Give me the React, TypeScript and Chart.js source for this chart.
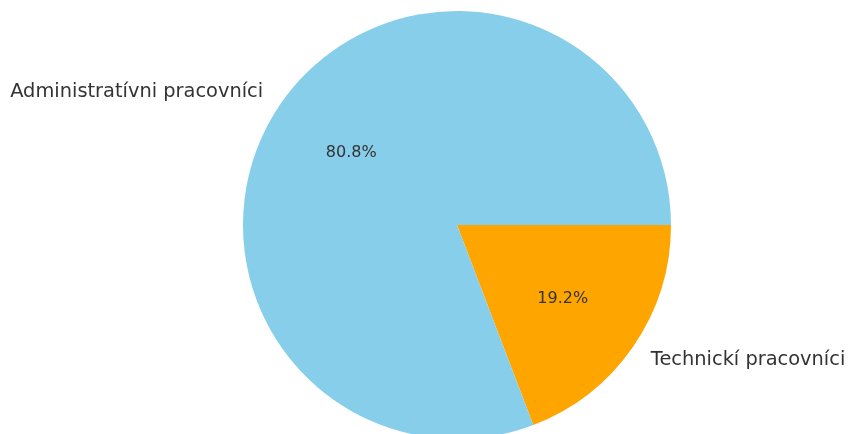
import React, { useEffect, useRef } from "react";
import { Chart, registerables } from "chart.js";

Chart.register(...registerables);

const categories = ["Technickí pracovníci", "Administratívni pracovníci"];
const values = [19.2, 80.8];
const colors = ["#FFA500", "#87CEEB"];

const labelPlugin = {
  id: "pieLabels",
  afterDatasetsDraw(chart: any) {
    const ctx = chart.ctx;
    const meta = chart.getDatasetMeta(0);
    const total = values.reduce((a, b) => a + b, 0);
    ctx.save();
    meta.data.forEach((arc: any, i: number) => {
      const { x, y, startAngle, endAngle, outerRadius } = arc.getProps(
        ["x", "y", "startAngle", "endAngle", "outerRadius"],
        true
      );
      const mid = (startAngle + endAngle) / 2;
      const cx = Math.cos(mid);
      const cy = Math.sin(mid);
      // outer label
      ctx.fillStyle = "#333333";
      ctx.font = '19.4px "DejaVu Sans"';
      ctx.textBaseline = "middle";
      ctx.textAlign = cx >= 0 ? "left" : "right";
      ctx.fillText(categories[i], x + cx * outerRadius * 1.1, y + cy * outerRadius * 1.1 + 1);
      // percent
      ctx.font = '16px "DejaVu Sans"';
      ctx.textAlign = "center";
      const pct = ((values[i] / total) * 100).toFixed(1) + "%";
      ctx.fillText(pct, x + cx * outerRadius * 0.6, y + cy * outerRadius * 0.6 + 1);
    });
    ctx.restore();
  },
};

export default function App() {
  const ref = useRef<HTMLCanvasElement | null>(null);
  useEffect(() => {
    if (!ref.current) return;
    const chart = new Chart(ref.current, {
      type: "pie",
      data: {
        labels: categories,
        datasets: [
          {
            data: values,
            backgroundColor: colors,
            borderWidth: 0,
          },
        ],
      },
      options: {
        responsive: false,
        animation: false,
        devicePixelRatio: 1,
        rotation: 90,
        layout: { padding: { left: 243, right: 177, top: 11, bottom: 11 } },
        plugins: {
          legend: { display: false },
          tooltip: { enabled: false },
        },
      },
      plugins: [labelPlugin],
    });
    return () => chart.destroy();
  }, []);
  return (
    <div
      style={{
        position: "absolute",
        left: 0,
        top: 0,
        width: 848,
        height: 434,
        overflow: "hidden",
        background: "#fff",
      }}
    >
      <canvas ref={ref} width={848} height={450} style={{ display: "block" }} />
    </div>
  );
}
